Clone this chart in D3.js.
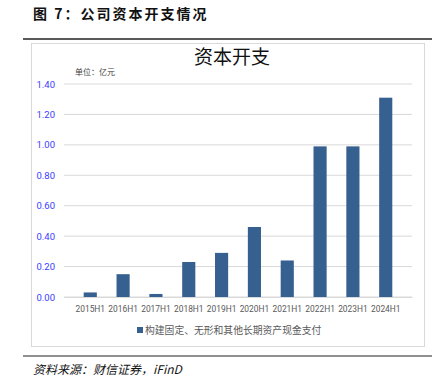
<!DOCTYPE html>
<html>
<head>
<meta charset="utf-8">
<script src="https://cdn.jsdelivr.net/npm/d3@7"></script>
<style>
  body { margin: 0; background: #fff; }
  svg { display: block; }
</style>
</head>
<body>
<svg id="chart" width="435" height="390"></svg>
<script>
// chart data
const periods = ['2015H1', '2016H1', '2017H1', '2018H1', '2019H1', '2020H1', '2021H1', '2022H1', '2023H1', '2024H1'];
const capex = [0.03, 0.15, 0.02, 0.23, 0.29, 0.46, 0.24, 0.99, 0.99, 1.31];
const yTicks = [0, 0.2, 0.4, 0.6, 0.8, 1.0, 1.2, 1.4];

const svg = d3.select('#chart');
const cjk = '"Noto Sans CJK SC", "Noto Sans", sans-serif';

// figure heading
svg.append('text')
  .attr('x', 33).attr('y', 19)
  .attr('font-family', cjk).attr('font-weight', 'bold')
  .attr('font-size', 14).attr('letter-spacing', 2)
  .attr('fill', '#111')
  .text('图 7：公司资本开支情况');

svg.append('line')
  .attr('x1', 23).attr('x2', 432).attr('y1', 39).attr('y2', 39)
  .attr('stroke', '#222').attr('stroke-width', 1.5);

// chart frame
svg.append('rect')
  .attr('x', 31.5).attr('y', 43.5).attr('width', 393).attr('height', 303)
  .attr('fill', '#fff').attr('stroke', '#d9d9d9');

const x = d3.scaleBand().domain(periods).range([64, 412]).padding(0.6);
const y = d3.scaleLinear().domain([0, 1.4]).range([297, 84]);

// gridlines
svg.append('g').selectAll('line').data(yTicks).enter().append('line')
  .attr('x1', 64).attr('x2', 412)
  .attr('y1', d => y(d)).attr('y2', d => y(d))
  .attr('stroke', '#d9d9d9').attr('stroke-width', 1);

// y axis labels
const yAxis = svg.append('g')
  .attr('transform', 'translate(64,0)')
  .call(d3.axisLeft(y).tickValues(yTicks).tickFormat(d3.format('.2f')).tickSize(0).tickPadding(9));
yAxis.select('.domain').remove();
yAxis.selectAll('text')
  .attr('font-family', 'Roboto, "Open Sans", sans-serif').attr('font-size', 9.5)
  .attr('fill', '#3b3bff');

// bars
svg.append('g').selectAll('rect').data(capex).enter().append('rect')
  .attr('x', (d, i) => x(periods[i]))
  .attr('y', d => y(d))
  .attr('width', x.bandwidth())
  .attr('height', d => y(0) - y(d))
  .attr('fill', '#35608f');

// x axis
const xAxis = svg.append('g')
  .attr('transform', 'translate(0,297)')
  .call(d3.axisBottom(x).tickSize(0).tickPadding(9));
xAxis.select('.domain').attr('stroke', '#d9d9d9');
xAxis.selectAll('text')
  .attr('font-family', 'Roboto, "Open Sans", sans-serif').attr('font-size', 8.4)
  .attr('fill', '#595959');

// chart title and unit
svg.append('text')
  .attr('x', 232).attr('y', 64).attr('text-anchor', 'middle')
  .attr('font-family', cjk).attr('font-size', 19).attr('fill', '#111')
  .text('资本开支');

svg.append('text')
  .attr('x', 75).attr('y', 75)
  .attr('font-family', cjk).attr('font-size', 8).attr('fill', '#404040')
  .text('单位：亿元');

// legend
svg.append('rect')
  .attr('x', 137).attr('y', 327).attr('width', 6).attr('height', 6)
  .attr('fill', '#35608f');
svg.append('text')
  .attr('x', 145).attr('y', 334)
  .attr('font-family', cjk).attr('font-size', 9.8).attr('fill', '#595959')
  .text('构建固定、无形和其他长期资产现金支付');

// source line
svg.append('line')
  .attr('x1', 23).attr('x2', 432).attr('y1', 356).attr('y2', 356)
  .attr('stroke', '#222').attr('stroke-width', 1.2);

svg.append('text')
  .attr('x', 33).attr('y', 374)
  .attr('font-family', '"Noto Sans CJK SC", "Liberation Serif", serif')
  .attr('font-style', 'italic').attr('font-size', 12).attr('fill', '#111')
  .text('资料来源：财信证券，iFinD');
</script>
</body>
</html>
